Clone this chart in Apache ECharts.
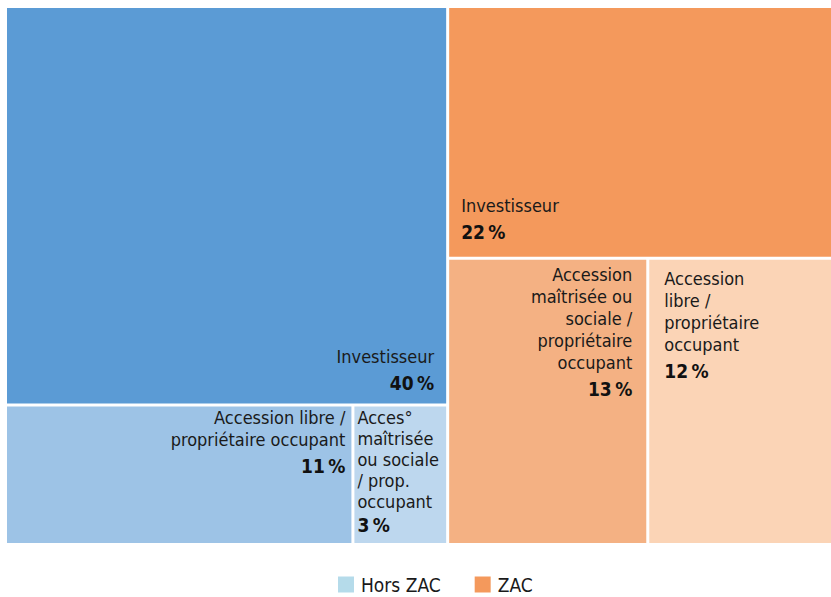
<!DOCTYPE html>
<html>
<head>
<meta charset="utf-8">
<script src="https://cdn.jsdelivr.net/npm/echarts@6/dist/echarts.min.js"></script>
<style>
html,body{margin:0;padding:0;background:#fff;}
#chart{width:831px;height:597px;}
</style>
</head>
<body>
<div id="chart"></div>
<script>
// Data
const groups = ['Hors ZAC', 'ZAC'];
const groupColors = ['#b5dbea', '#f4995c'];
const horsZacNames = ['Investisseur', 'Accession libre /\npropriétaire occupant', 'Acces°\nmaîtrisée\nou sociale\n/ prop.\noccupant'];
const horsZacValues = [40, 11, 3];
const horsZacColors = ['#5b9bd5', '#9dc3e6', '#bdd7ee'];
const zacNames = ['Investisseur', 'Accession\nmaîtrisée ou\nsociale /\npropriétaire\noccupant', 'Accession\nlibre /\npropriétaire\noccupant'];
const zacValues = [22, 13, 12];
const zacColors = ['#f4995c', '#f4b183', '#fbd4b6'];

const FONT = "'Liberation Sans Narrow','DejaVu Sans Condensed','Roboto Condensed',sans-serif";
const NAME_LH = 22, PCT_LH = 30;

// label placement per cell (style only); bottom = margin from cell bottom when label sits at bottom
const horsZacLabel = [
  {position: 'insideTopRight', padding: [0, 12, 0, 0], bottom: 6},
  {position: 'insideTopRight', padding: [0, 6, 0, 0]},
  {position: 'insideTopLeft', padding: [0, 0, 0, 3], lh: 21, plh: 26}
];
const zacLabel = [
  {position: 'insideTopLeft', padding: [0, 0, 0, 12], bottom: 10},
  {position: 'insideTopRight', padding: [4, 14, 0, 0]},
  {position: 'insideTopLeft', padding: [8, 0, 0, 15]}
];

function pctStyle(lh) {
  return {fontFamily: FONT, fontSize: 19, fontWeight: 'bold', color: '#111', lineHeight: lh};
}

const bottomPlacement = {}; // dataIndex -> {margin, lines}
let counter = 1; // root node is index 0
function leaves(names, values, colors, labels) {
  return names.map((n, i) => {
    const idx = counter++;
    const lab = labels[i];
    if (lab.bottom != null) bottomPlacement[idx] = {margin: lab.bottom, lines: n.split('\n').length};
    const label = {position: lab.position, distance: 0, padding: lab.padding};
    if (lab.lh) {
      label.lineHeight = lab.lh;
      label.rich = {p: pctStyle(lab.plh)};
    }
    return {name: n, value: values[i], itemStyle: {color: colors[i]}, label: label};
  });
}
function group(gi, names, values, colors, labels) {
  counter++;
  return {name: groups[gi], value: values.reduce((a, b) => a + b, 0), itemStyle: {color: groupColors[gi]},
    children: leaves(names, values, colors, labels)};
}
const treeData = [
  group(0, horsZacNames, horsZacValues, horsZacColors, horsZacLabel),
  group(1, zacNames, zacValues, zacColors, zacLabel)
];

const chart = echarts.init(document.getElementById('chart'), null, {renderer: 'svg'});
chart.setOption({
  backgroundColor: '#ffffff',
  animation: false,
  grid: {left: 0, top: 0, width: 1, height: 1, show: false},
  xAxis: {show: false, type: 'category', data: []},
  yAxis: {show: false, type: 'value'},
  legend: {
    data: groups,
    top: 570,
    left: 333,
    icon: 'rect',
    itemWidth: 16,
    itemHeight: 16,
    itemGap: 34,
    textStyle: {fontFamily: FONT, fontSize: 19, color: '#1a1a1a', padding: [0, 0, 0, 2]}
  },
  series: [
    {
      type: 'treemap',
      left: 7, top: 8, width: 824, height: 535,
      roam: false,
      nodeClick: false,
      breadcrumb: {show: false},
      squareRatio: 1,
      label: {
        show: true,
        fontFamily: FONT,
        color: '#1a1a1a',
        fontSize: 18,
        lineHeight: NAME_LH,
        overflow: 'none',
        formatter: p => p.name + '\n{p|' + p.value + '\u2009%}',
        rich: {p: pctStyle(PCT_LH)}
      },
      labelLayout: function (params) {
        const b = bottomPlacement[params.dataIndex];
        if (!b) return {};
        const contentH = b.lines * NAME_LH + PCT_LH;
        return {dy: params.rect.height - b.margin - contentH};
      },
      upperLabel: {show: false},
      levels: [
        {itemStyle: {gapWidth: 3, borderWidth: 0}},
        {itemStyle: {gapWidth: 3, borderWidth: 0, borderColor: '#fff'}},
        {itemStyle: {borderWidth: 0}}
      ],
      data: treeData
    },
    {name: groups[0], type: 'bar', data: [], itemStyle: {color: groupColors[0]}},
    {name: groups[1], type: 'bar', data: [], itemStyle: {color: groupColors[1]}}
  ]
});
</script>
</body>
</html>
